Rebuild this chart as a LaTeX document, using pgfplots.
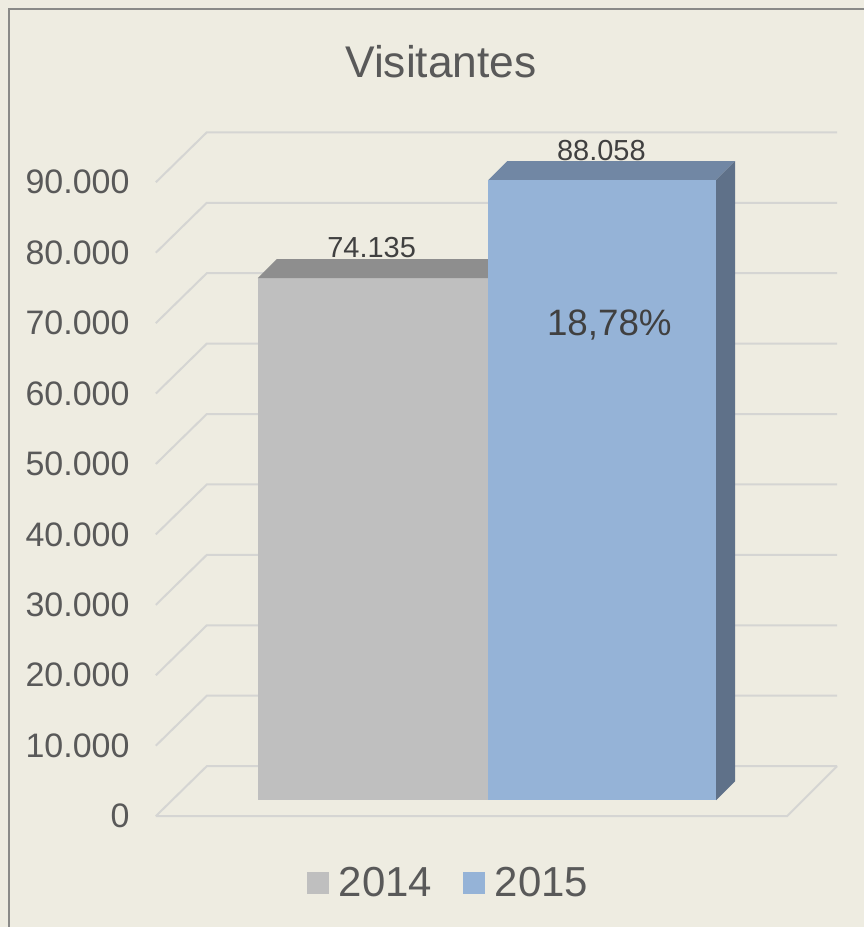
\documentclass[border=0pt]{standalone}
\usepackage{fontspec}
\setmainfont{Liberation Sans}
\usepackage{pgfplots}
\pgfplotsset{compat=1.18}
\definecolor{bgc}{HTML}{EEECE1}
\definecolor{gridc}{HTML}{D5D5D3}
\definecolor{tickc}{HTML}{595959}
\definecolor{labc}{HTML}{404040}
\definecolor{c14}{HTML}{BFBFBF}
\definecolor{c14top}{HTML}{8E8E8E}
\definecolor{c15}{HTML}{95B3D7}
\definecolor{c15top}{HTML}{7187A4}
\definecolor{c15side}{HTML}{5F7189}
\definecolor{borderc}{HTML}{8A8A88}
\begin{document}
\begin{tikzpicture}
\begin{axis}[
  width=432.5pt, height=464pt, scale only axis,
  xmin=0, xmax=865, ymin=-15745, ymax=115887,
  axis background/.style={fill=bgc},
  axis line style={draw=none},
  tick style={draw=none},
  xtick=\empty,
  scaled y ticks=false,
  ytick={0,10000,20000,30000,40000,50000,60000,70000,80000,90000},
  yticklabels={0,10.000,20.000,30.000,40.000,50.000,60.000,70.000,80.000,90.000},
  yticklabel style={anchor=east, inner sep=0pt, xshift=65pt, font=\fontsize{17}{20}\selectfont, text=tickc},
  clip=false,
  legend columns=2,
  legend style={at={(axis cs:448,-9503)}, anchor=center, draw=none, fill=none,
    font=\fontsize{21}{24}\selectfont, text=tickc, inner sep=0pt,
    cells={anchor=west},
    /tikz/every odd column/.append style={column sep=5pt},
    /tikz/every even column/.append style={column sep=15.5pt},
    nodes={inner sep=0pt, text=tickc}},
  legend image code/.code={\fill[#1] (0pt,-5.5pt) rectangle (11pt,5.5pt);},
]
% border
\draw[borderc, line width=1pt] (axis cs:9,-15745) -- (axis cs:9,114610) -- (axis cs:865,114610);
% grid: side wall diagonals + back wall lines
\addplot[gridc, line width=1pt, forget plot] coordinates {(156,0) (207,7092) (838,7092)};
\addplot[gridc, line width=1pt, forget plot] coordinates {(156,10000) (207,17092) (838,17092)};
\addplot[gridc, line width=1pt, forget plot] coordinates {(156,20000) (207,27092) (838,27092)};
\addplot[gridc, line width=1pt, forget plot] coordinates {(156,30000) (207,37092) (838,37092)};
\addplot[gridc, line width=1pt, forget plot] coordinates {(156,40000) (207,47092) (838,47092)};
\addplot[gridc, line width=1pt, forget plot] coordinates {(156,50000) (207,57092) (838,57092)};
\addplot[gridc, line width=1pt, forget plot] coordinates {(156,60000) (207,67092) (838,67092)};
\addplot[gridc, line width=1pt, forget plot] coordinates {(156,70000) (207,77092) (838,77092)};
\addplot[gridc, line width=1pt, forget plot] coordinates {(156,80000) (207,87092) (838,87092)};
\addplot[gridc, line width=1pt, forget plot] coordinates {(156,90000) (207,97092) (838,97092)};
% floor
\addplot[gridc, line width=1pt, forget plot] coordinates {(156,0) (788,0) (838,7092)};
% bar 2014
\addplot[ybar, bar width=231, fill=c14, draw=none, yshift=8pt, forget plot] coordinates {(373.5,74135)};
\addplot[fill=c14top, draw=none, forget plot] coordinates {(258,76405) (489,76405) (508,79100) (277,79100)} --cycle;
% bar 2015
\addplot[ybar, bar width=228, fill=c15, draw=none, yshift=8pt, forget plot] coordinates {(603,88058)};
\addplot[fill=c15top, draw=none, forget plot] coordinates {(489,90328) (717,90328) (736,93023) (508,93023)} --cycle;
\addplot[fill=c15side, draw=none, forget plot] coordinates {(717,2270) (736,4965) (736,93023) (717,90328)} --cycle;
% labels
\node[font=\fontsize{14.5}{16}\selectfont, text=labc] at (axis cs:372,80709) {74.135};
\node[font=\fontsize{14.5}{16}\selectfont, text=labc] at (axis cs:602,94540) {88.058};
\node[font=\fontsize{18.4}{21}\selectfont, text=labc] at (axis cs:610,69787) {18,78\%};
\node[font=\fontsize{22.2}{26}\selectfont, text=tickc] at (axis cs:441.5,107092) {Visitantes};
% legend
\addlegendimage{fill=c14, draw=none}
\addlegendentry{2014}
\addlegendimage{fill=c15, draw=none}
\addlegendentry{2015}
\end{axis}
\end{tikzpicture}
\end{document}
